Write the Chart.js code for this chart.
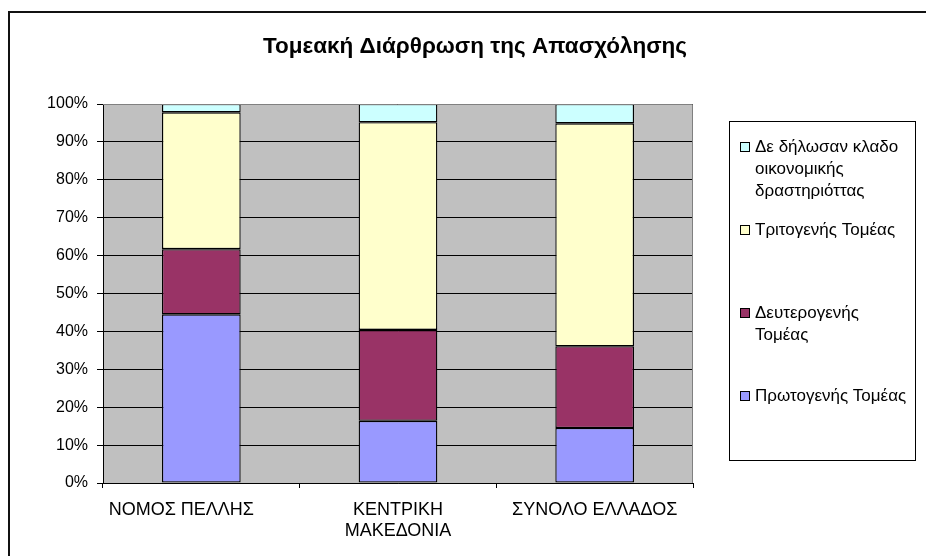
<!DOCTYPE html>
<html>
<head>
<meta charset="utf-8">
<style>
  html, body { margin: 0; padding: 0; background: #fff; }
  #chart { display: block; }
</style>
</head>
<body>
<canvas id="chart" width="926" height="556"></canvas>
<script src="https://cdn.jsdelivr.net/npm/chart.js"></script>
<script>
// DATA
// (first label carries trailing spaces, as in the original sheet)
const categories = ["ΝΟΜΟΣ ΠΕΛΛΗΣ        ", ["ΚΕΝΤΡΙΚΗ", "ΜΑΚΕΔΟΝΙΑ"], "ΣΥΝΟΛΟ ΕΛΛΑΔΟΣ"]
const primary = [44.5, 16.4, 14.5]
const secondary = [17.2, 24.0, 21.6]
const tertiary = [36.1, 54.8, 58.8]
const undeclared = [2.2, 4.8, 5.1]
const seriesNames = [
    "Πρωτογενής Τομέας",
    "Δευτερογενής Τομέας",
    "Τριτογενής Τομέας",
    "Δε δήλωσαν κλαδο οικονομικής δραστηριόττας"
]
const chartTitle = "Τομεακή Διάρθρωση της Απασχόλησης"

const FONT = "'Liberation Sans', Arial, sans-serif"

function makeSet(i, values, color) {
    return {
        label: seriesNames[i],
        data: values,
        backgroundColor: color,
        borderColor: "#000",
        borderWidth: 1.3,
        borderSkipped: false,
        barPercentage: 0.4,
        categoryPercentage: 1
    }
}

//BACKGROUND, FRAME, TITLE, LEGEND
const excelLook = {
    id: "excelLook",
    beforeDraw(chart) {
        const ctx = chart.ctx
        const a = chart.chartArea
        ctx.save()
        ctx.fillStyle = "#fff"
        ctx.fillRect(0, 0, chart.width, chart.height)
        ctx.fillStyle = "#c0c0c0"
        ctx.fillRect(a.left, a.top, a.right - a.left, a.bottom - a.top)
        ctx.restore()
    },
    afterDraw(chart) {
        const ctx = chart.ctx
        const a = chart.chartArea
        ctx.save()

        // plot border (top / right)
        ctx.strokeStyle = "#808080"
        ctx.lineWidth = 1
        ctx.beginPath()
        ctx.moveTo(a.left, a.top + 0.5)
        ctx.lineTo(a.right - 0.5, a.top + 0.5)
        ctx.lineTo(a.right - 0.5, a.bottom)
        ctx.stroke()

        // outer frame
        ctx.strokeStyle = "#111"
        ctx.lineWidth = 2
        ctx.strokeRect(9, 12, 940, 580)

        // title
        ctx.fillStyle = "#000"
        ctx.font = "bold 22.5px " + FONT
        ctx.textAlign = "center"
        ctx.textBaseline = "middle"
        ctx.fillText(chartTitle, 475, 47)

        // legend box
        ctx.strokeStyle = "#000"
        ctx.lineWidth = 1
        ctx.strokeRect(729.5, 121.5, 186, 339)

        ctx.font = "17px " + FONT
        ctx.textAlign = "left"
        const sets = chart.data.datasets.slice().reverse()
        let y = 147
        sets.forEach(function(ds) {
            // wrap words
            const words = ds.label.split(" ")
            let lines = []
            let line = ""
            words.forEach(function(w) {
                const test = line ? line + " " + w : w
                if (ctx.measureText(test).width > 158 && line) {
                    lines.push(line)
                    line = w
                } else {
                    line = test
                }
            })
            lines.push(line)

            ctx.fillStyle = ds.backgroundColor
            ctx.fillRect(740.5, y - 4.5, 9, 9)
            ctx.strokeStyle = "#000"
            ctx.strokeRect(740.5, y - 4.5, 9, 9)
            ctx.fillStyle = "#000"
            lines.forEach(function(t, k) {
                ctx.fillText(t, 755, y + k * 22)
            })
            y += 83
        })
        ctx.restore()
    }
}

//CHART
const canvas = document.getElementById("chart")
let barChart = new Chart(canvas, {
    type: "bar",
    data: {
        labels: categories,
        datasets: [
            makeSet(0, primary, "#9999ff"),
            makeSet(1, secondary, "#993366"),
            makeSet(2, tertiary, "#ffffcc"),
            makeSet(3, undeclared, "#ccffff")
        ]
    },
    options: {
        responsive: false,
        animation: false,
        layout: {
            padding: { left: 0, top: 104, right: 233, bottom: 0 }
        },
        plugins: {
            legend: { display: false },
            title: { display: false },
            tooltip: { enabled: false }
        },
        scales: {
            x: {
                stacked: true,
                grid: {
                    drawOnChartArea: false,
                    drawTicks: true,
                    tickLength: 5,
                    color: "#000",
                    offset: true
                },
                border: { color: "#000", width: 1 },
                ticks: {
                    color: "#000",
                    font: { size: 18, family: FONT },
                    padding: 11,
                    maxRotation: 0,
                    autoSkip: false
                },
                afterFit: function(scale) { scale.height = 73 }
            },
            y: {
                stacked: true,
                min: 0,
                max: 100,
                ticks: {
                    stepSize: 10,
                    color: "#000",
                    font: { size: 16, family: FONT },
                    padding: 9,
                    callback: function(v) { return v + "%" }
                },
                grid: { color: "#000", tickLength: 6 },
                border: { color: "#000", width: 1 },
                afterFit: function(scale) { scale.width = 103 }
            }
        }
    },
    plugins: [excelLook]
})
</script>
</body>
</html>
